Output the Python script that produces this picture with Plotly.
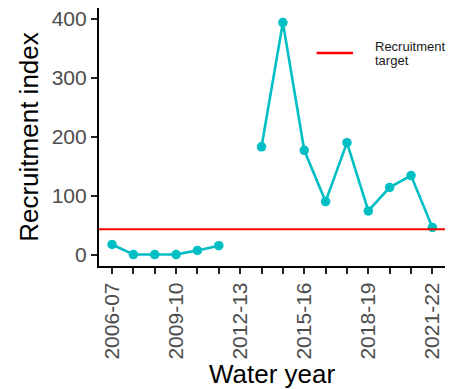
import plotly.graph_objects as go

years = ["2006-07", "2007-08", "2008-09", "2009-10", "2010-11", "2011-12", "2012-13",
         "2013-14", "2014-15", "2015-16", "2016-17", "2017-18", "2018-19", "2019-20",
         "2020-21", "2021-22"]
recruitment = [17, 0, 0, 0, 7, 15, None, 183, 394, 177, 90, 190, 74, 114, 134, 46]
target = 43
label_years = ["2006-07", "2009-10", "2012-13", "2015-16", "2018-19", "2021-22"]
legend_label = ["Recruitment", "target"]

font_family = "Arial, Liberation Sans, sans-serif"
teal = "#00BFC4"
red = "#FF0000"

fig = go.Figure()
fig.add_trace(go.Scatter(
    x=years, y=recruitment, mode="lines+markers",
    line=dict(color=teal, width=2.6),
    marker=dict(color=teal, size=9.5),
    connectgaps=False, showlegend=False,
))
# target line across the full panel
fig.add_shape(type="line", xref="paper", x0=0, x1=1, yref="y", y0=target, y1=target,
              line=dict(color=red, width=2))
# legend key
fig.add_shape(type="line", xref="paper", yref="paper", x0=0.629, x1=0.734, y0=0.826, y1=0.826,
              line=dict(color=red, width=2.5))
fig.add_annotation(xref="paper", yref="paper", x=0.791, y=0.851, text=legend_label[0],
                   showarrow=False, xanchor="left", yanchor="middle", align="left",
                   font=dict(size=13, color="#1A1A1A"))
fig.add_annotation(xref="paper", yref="paper", x=0.791, y=0.796, text=legend_label[1],
                   showarrow=False, xanchor="left", yanchor="middle", align="left",
                   font=dict(size=13, color="#1A1A1A"))

# the page body adds an 8px margin, so the figure is sized to fit the window
fig.update_layout(
    width=450, height=381,
    margin=dict(l=91, r=13, t=0, b=123),
    paper_bgcolor="white", plot_bgcolor="white",
    font=dict(family=font_family),
    showlegend=False,
)
fig.update_xaxes(
    type="category", categoryorder="array", categoryarray=years,
    range=[-0.61, 15.59], automargin=False, ticklabeloverflow="allow",
    tickmode="array", tickvals=years,
    ticktext=[y if y in label_years else "" for y in years],
    tickangle=-90, tickfont=dict(size=21, color="#4D4D4D"),
    ticks="outside", ticklen=6, tickwidth=1.5, tickcolor="#222222",
    showline=True, linecolor="black", linewidth=2.2, showgrid=False, zeroline=False,
    title=dict(text="Water year", font=dict(size=26, color="black"), standoff=4),
)
fig.update_yaxes(
    range=[-19.5, 418.7], automargin=False, ticklabeloverflow="allow",
    tickvals=[0, 100, 200, 300, 400],
    tickfont=dict(size=21, color="#4D4D4D"),
    ticks="outside", ticklen=6, tickwidth=1.5, tickcolor="#222222",
    showline=True, linecolor="black", linewidth=2.2, showgrid=False, zeroline=False,
    title=dict(text="Recruitment index", font=dict(size=26, color="black"), standoff=6),
)
fig.write_html("out.html")
